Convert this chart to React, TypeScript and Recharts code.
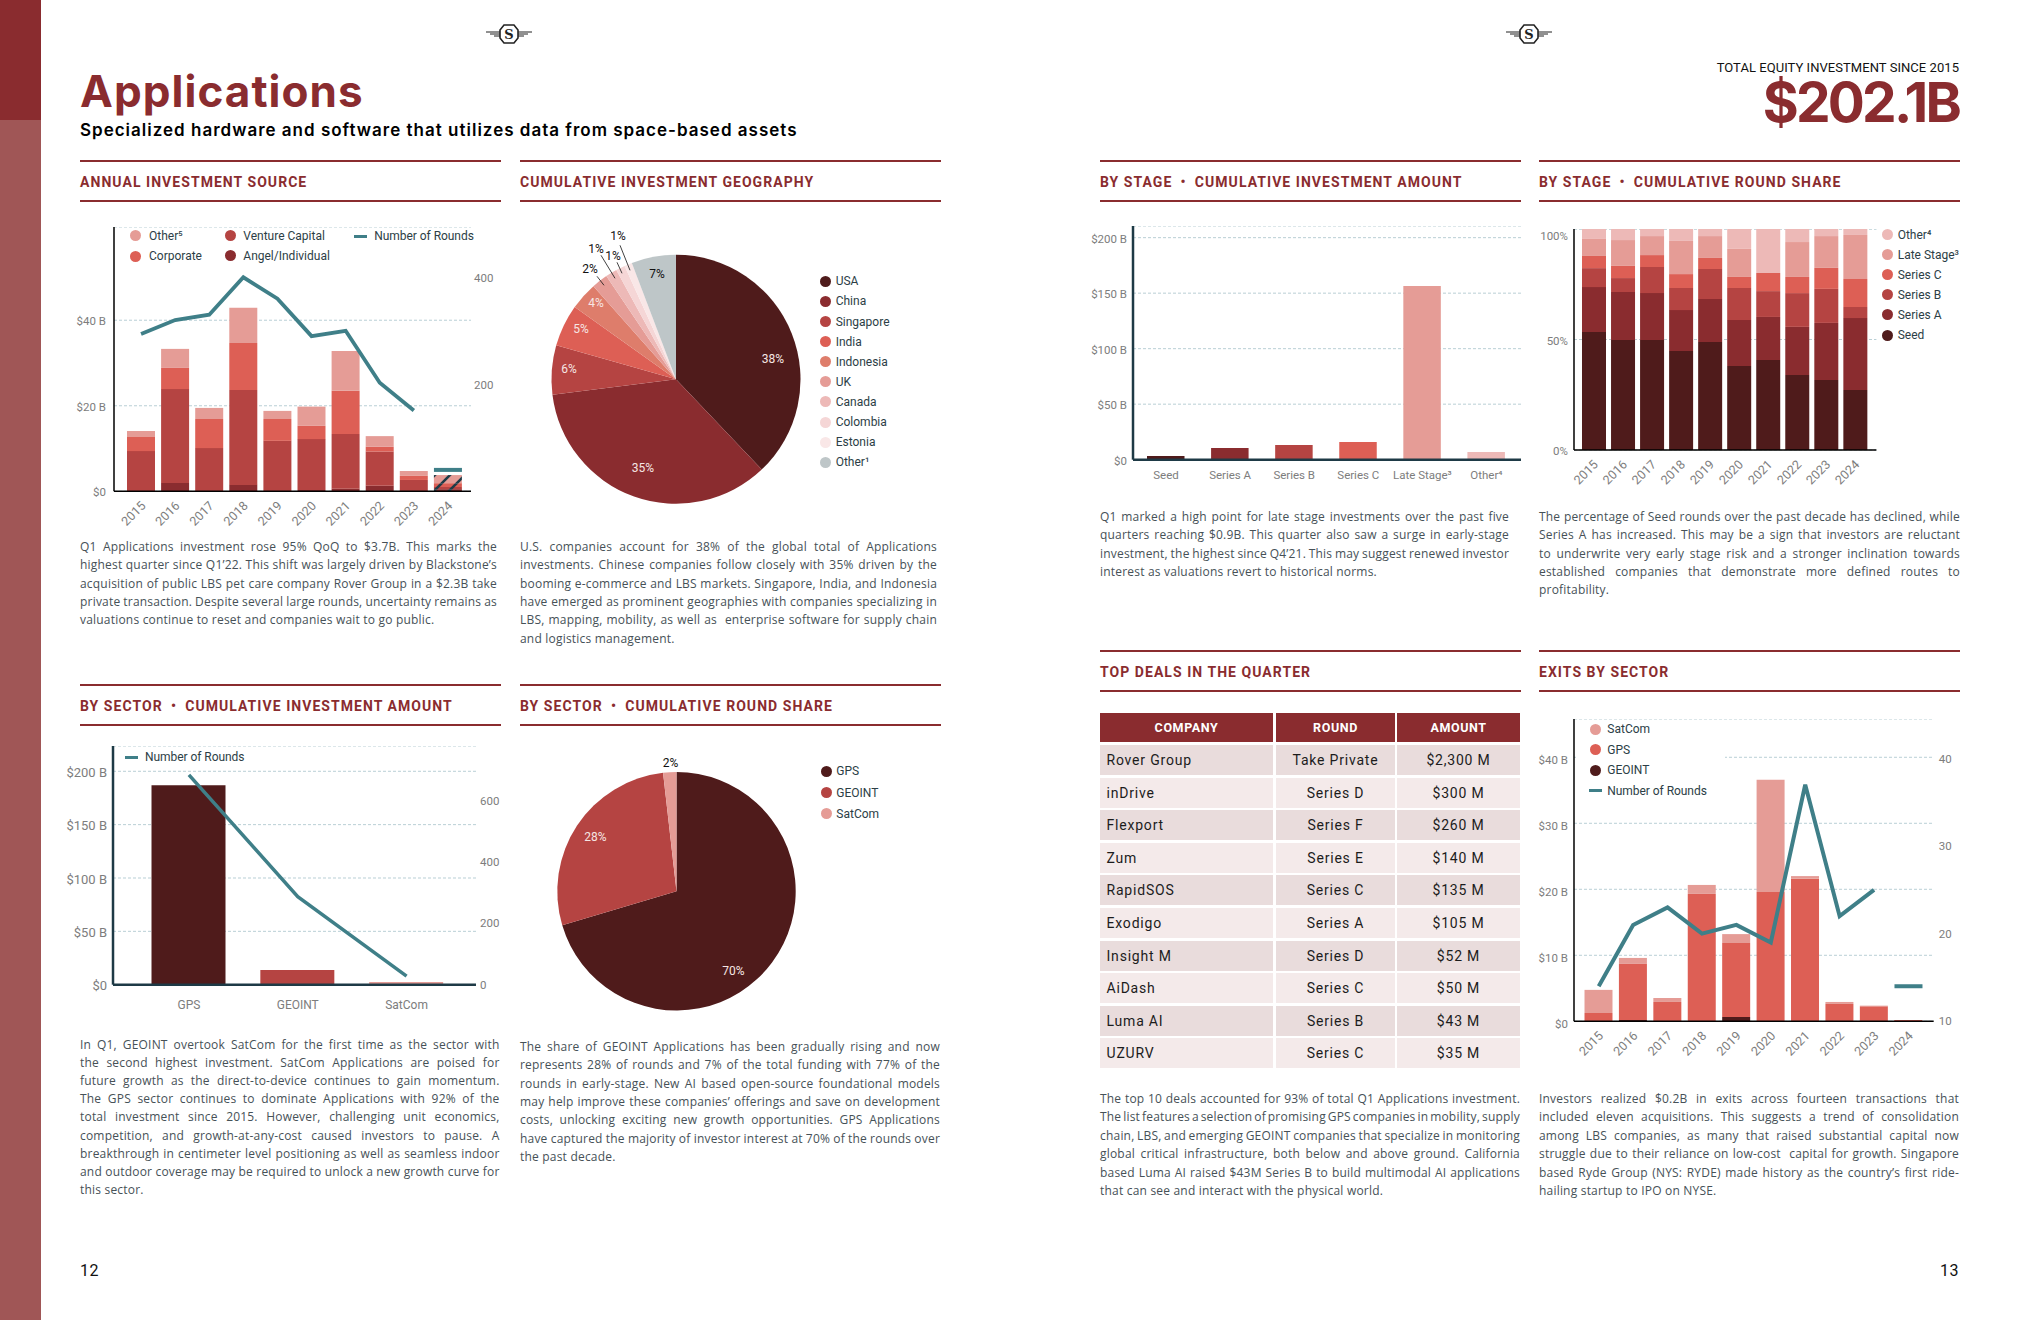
import React from 'react'
import { ComposedChart, Bar, Line, XAxis, YAxis, CartesianGrid, Cell, PieChart, Pie } from 'recharts'

const years = ['2015', '2016', '2017', '2018', '2019', '2020', '2021', '2022', '2023', '2024']

// annual investment source ($B)
const sourceAngel = [0, 1.95, 0, 1.5, 0, 0.3, 0.6, 1.3, 0, 0.5]
const sourceVC = [9.4, 21.95, 10.1, 22.2, 11.8, 11.9, 12.8, 8.0, 2.65, 0.5]
const sourceCorporate = [3.3, 4.95, 6.8, 11.0, 5.1, 3.1, 10.1, 1.1, 0.95, 0.9]
const sourceOther = [1.4, 4.45, 2.6, 8.2, 1.9, 4.5, 9.3, 2.5, 1.15, 1.9]
const sourceRounds = [294, 320, 330, 400, 360, 290, 300, 203, 151, null]
const sourceRoundsPartial = [null, null, null, null, null, null, null, null, null, 40]

const geoNames = ['USA', 'China', 'Singapore', 'India', 'Indonesia', 'UK', 'Canada', 'Colombia', 'Estonia', 'Other¹']
const geoValues = [38.1, 35.3, 6.4, 5.5, 3.6, 2.1, 1.5, 1.2, 1.0, 5.8]
const geoLabels = ['38%', '35%', '6%', '5%', '4%', '2%', '1%', '1%', '1%', '7%']

const sectorNames = ['GPS', 'GEOINT', 'SatCom']
const sectorAmount = [187, 13.7, 2.5]
const sectorRounds = [684, 287, 28]
const sectorShare = [70.4, 27.8, 1.8]
const sectorShareLabels = ['70%', '28%', '2%']

const stageNames = ['Seed', 'Series A', 'Series B', 'Series C', 'Late Stage³', 'Other⁴']
const stageAmount = [3.3, 10.5, 13.2, 15.9, 156.5, 6.9]

const shareSeed = [53.4, 49.8, 49.8, 44.8, 48.9, 38, 40.7, 33.9, 31.7, 27.1]
const shareA = [20.3, 21.7, 21.2, 18.5, 19.4, 20.8, 19.5, 21.8, 25.8, 32.6]
const shareB = [8.6, 6.3, 11.8, 10, 13.6, 14.5, 11.7, 15.3, 15.4, 5]
const shareC = [5.5, 5.5, 5.4, 6.3, 5, 5, 8.2, 7.3, 9.5, 12.7]
const shareLate = [7.7, 11.7, 8.6, 15, 9.9, 12.7, 0, 15.8, 14.4, 19.9]
const shareOther = [4.5, 5, 3.2, 5.4, 3.2, 9, 19.9, 5.9, 3.2, 2.7]

const exitGeoint = [0, 0.2, 0, 0, 0.66, 0, 0, 0, 0, 0]
const exitGps = [1.26, 8.5, 2.93, 19.3, 11.2, 19.6, 21.6, 2.63, 2.27, 0.2]
const exitSatcom = [3.5, 0.9, 0.6, 1.36, 1.35, 17, 0.4, 0.3, 0.1, 0]
const exitRounds = [14, 21, 23, 20, 21, 19, 37, 22, 25, null]
const exitRoundsPartial = [null, null, null, null, null, null, null, null, null, 14]

const dealCompany = ['Rover Group', 'inDrive', 'Flexport', 'Zum', 'RapidSOS', 'Exodigo', 'Insight M', 'AiDash', 'Luma AI', 'UZURV']
const dealRound = ['Take Private', 'Series D', 'Series F', 'Series E', 'Series C', 'Series A', 'Series D', 'Series C', 'Series B', 'Series C']
const dealAmount = ['$2,300 M', '$300 M', '$260 M', '$140 M', '$135 M', '$105 M', '$52 M', '$50 M', '$43 M', '$35 M']

const p1 = [
  'Q1 Applications investment rose 95% QoQ to $3.7B. This marks the',
  'highest quarter since Q1’22. This shift was largely driven by Blackstone’s',
  'acquisition of public LBS pet care company Rover Group in a $2.3B take',
  'private transaction. Despite several large rounds, uncertainty remains as',
  'valuations continue to reset and companies wait to go public.',
]
const p2 = [
  'U.S. companies account for 38% of the global total of Applications',
  'investments. Chinese companies follow closely with 35% driven by the',
  'booming e-commerce and LBS markets. Singapore, India, and Indonesia',
  'have emerged as prominent geographies with companies specializing in',
  'LBS, mapping, mobility, as well as  enterprise software for supply chain',
  'and logistics management.',
]
const p3 = [
  'In Q1, GEOINT overtook SatCom for the first time as the sector with',
  'the second highest investment. SatCom Applications are poised for',
  'future growth as the direct-to-device continues to gain momentum.',
  'The GPS sector continues to dominate Applications with 92% of the',
  'total investment since 2015. However, challenging unit economics,',
  'competition, and growth-at-any-cost caused investors to pause. A',
  'breakthrough in centimeter level positioning as well as seamless indoor',
  'and outdoor coverage may be required to unlock a new growth curve for',
  'this sector.',
]
const p4 = [
  'The share of GEOINT Applications has been gradually rising and now',
  'represents 28% of rounds and 7% of the total funding with 77% of the',
  'rounds in early-stage. New AI based open-source foundational models',
  'may help improve these companies’ offerings and save on development',
  'costs, unlocking exciting new growth opportunities. GPS Applications',
  'have captured the majority of investor interest at 70% of the rounds over',
  'the past decade.',
]
const p5 = [
  'Q1 marked a high point for late stage investments over the past five',
  'quarters reaching $0.9B. This quarter also saw a surge in early-stage',
  'investment, the highest since Q4’21. This may suggest renewed investor',
  'interest as valuations revert to historical norms.',
]
const p6 = [
  'The percentage of Seed rounds over the past decade has declined, while',
  'Series A has increased. This may be a sign that investors are reluctant',
  'to underwrite very early stage risk and a stronger inclination towards',
  'established companies that demonstrate more defined routes to',
  'profitability.',
]
const p7 = [
  'The top 10 deals accounted for 93% of total Q1 Applications investment.',
  'The list features a selection of promising GPS companies in mobility, supply',
  'chain, LBS, and emerging GEOINT companies that specialize in monitoring',
  'global critical infrastructure, both below and above ground. California',
  'based Luma AI raised $43M Series B to build multimodal AI applications',
  'that can see and interact with the physical world.',
]
const p8 = [
  'Investors realized $0.2B in exits across fourteen transactions that',
  'included eleven acquisitions. This suggests a trend of consolidation',
  'among LBS companies, as many that raised substantial capital now',
  'struggle due to their reliance on low-cost  capital for growth. Singapore',
  'based Ryde Group (NYS: RYDE) made history as the country’s first ride-',
  'hailing startup to IPO on NYSE.',
]

const sourceData = years.map((year, i) => ({ year, angel: sourceAngel[i], vc: sourceVC[i], corporate: sourceCorporate[i], other: sourceOther[i], rounds: sourceRounds[i], partial: sourceRoundsPartial[i] }))
const sectorData = sectorNames.map((name, i) => ({ name, amount: sectorAmount[i], rounds: sectorRounds[i] }))
const stageData = stageNames.map((name, i) => ({ name, amount: stageAmount[i] }))
const shareData = years.map((year, i) => ({ year, seed: shareSeed[i], a: shareA[i], b: shareB[i], c: shareC[i], late: shareLate[i], other: shareOther[i] }))
const exitData = years.map((year, i) => ({ year, geoint: exitGeoint[i], gps: exitGps[i], satcom: exitSatcom[i], rounds: exitRounds[i], partial: exitRoundsPartial[i] }))
const geoData = geoNames.map((name, i) => ({ name, value: geoValues[i] }))
const sectorShareData = sectorNames.map((name, i) => ({ name, value: sectorShare[i] }))

const DARK = '#4f1b1b'
const MAROON = '#8a2c2f'
const BRICK = '#b54442'
const CORAL = '#dd5f55'
const SALMON = '#de7d6b'
const ROSE = '#e59c96'
const BLUSH = '#edb9b7'
const PALE = '#f5d6d6'
const MIST = '#f9e7e7'
const SLATE = '#bec6c8'
const TEAL = '#3f7f88'
const NAVY = '#1e3a46'
const GRID = '#b9cfd5'
const TICK = '#7d7d7d'
const BODY = '#465157'
const LEGEND = '#2c3e46'

const geoColors = [DARK, MAROON, BRICK, CORAL, SALMON, ROSE, BLUSH, PALE, MIST, SLATE]
const sectorColors = [DARK, BRICK, ROSE]
const stageColors = [DARK, MAROON, BRICK, CORAL, ROSE, BLUSH]

// label offsets from the pie centre, hand placed like in the report
const geoLabelPos = [[97, -19], [-33, 90], [-107, -9], [-95, -49], [-80, -75], [-86, -109], [-80, -129], [-63, -122], [-58, -142], [-19, -104]]
const geoLeaders = { 5: [-79, -103, -72, -94], 6: [-75, -124, -61, -101], 7: [-59, -117, -54, -106], 8: [-56, -134, -46, -109] }
const shareLabelPos = [[57, 80.5], [-81, -53], [-6, -127.5]]

function Txt({ x, y, size, color = '#000', weight = 400, font = 'Roboto', spacing = 0, right = false, children }: any) {
  const pos = right ? { right: 2040 - x } : { left: x }
  return <div style={{ position: 'absolute', ...pos, top: y, transform: 'translateY(-50%)', fontFamily: font, fontSize: size, color, fontWeight: weight, letterSpacing: spacing, lineHeight: 1, whiteSpace: 'pre' }}>{children}</div>
}

function Rule({ x, w, y }: any) {
  return <div style={{ position: 'absolute', left: x, top: y - 1, width: w, height: 2, background: MAROON }} />
}

function Section({ x, y, title, w = 421 }: any) {
  return <>
    <Rule x={x} w={w} y={y} />
    <Txt x={x} y={y + 20.5} size={14} weight={700} color={MAROON} spacing={1.05}>{title}</Txt>
    <Rule x={x} w={w} y={y + 40} />
  </>
}

function Para({ x, y, w, lines, step = 18.3 }: any) {
  return <>
    {lines.map((line: string, i: number) => {
      const last = i === lines.length - 1
      return <div key={i} style={{ position: 'absolute', left: x, top: y + i * step, width: w, transform: 'translateY(-50%)', fontFamily: '"Open Sans"', fontSize: 12, lineHeight: 1, color: BODY, letterSpacing: 0.2, wordSpacing: last ? 0 : -1.5, whiteSpace: 'pre', textAlign: 'justify', textAlignLast: last ? 'left' : 'justify' }}>{line}</div>
    })}
  </>
}

function Dot({ x, y, color, text, tx, size = 12, spacing = 0 }: any) {
  return <>
    <div style={{ position: 'absolute', left: x - 5.5, top: y - 5.5, width: 11, height: 11, borderRadius: 6, background: color }} />
    <Txt x={tx} y={y} size={size} color={LEGEND} spacing={spacing}>{text}</Txt>
  </>
}

function Dash({ x, y, text, tx, spacing = -0.05 }: any) {
  return <>
    <div style={{ position: 'absolute', left: x, top: y - 1.5, width: 13, height: 3, background: TEAL }} />
    <Txt x={tx} y={y} size={12} color={LEGEND} spacing={spacing}>{text}</Txt>
  </>
}

function Logo({ cx, cy }: any) {
  return <svg style={{ position: 'absolute', left: cx - 23, top: cy - 12 }} width={46} height={24} viewBox="0 0 46 24">
    <g stroke="#222" strokeWidth={1} fill="none">
      <path d="M0 10H15M4 12H15M8 14H15M31 10H46M31 12H42M31 14H38" />
      <polygon points="18,3 28,3 32,8 32,16 28,21 18,21 14,16 14,8" strokeWidth={1.6} fill="#fff" />
    </g>
    <text x={23} y={17} textAnchor="middle" fontFamily="DejaVu Serif" fontWeight={700} fontSize={13} fill="#222">S</text>
  </svg>
}

function Plot({ left, top, right, bottom, yW, rW = 0, xH, children }: any) {
  return <div style={{ position: 'absolute', left: left - yW, top }}>{children(right - left + yW + rW, bottom - top + xH)}</div>
}

const YearTick = ({ x, y, payload }: any) => {
  const ax = x + 3
  const ay = y + 11
  return <text x={ax} y={ay} textAnchor="end" dominantBaseline="middle" fontFamily="Roboto" fontSize={12.5} fill={TICK} transform={`rotate(-45 ${ax} ${ay})`}>{payload.value}</text>
}

const money = (v: number) => (v === 0 ? '$0' : `$${v} B`)
const noMargin = { top: 0, right: 0, bottom: 0, left: 0 }
const tickStyle = (size: number, dy = 1) => ({ fontFamily: 'Roboto', fontSize: size, fill: TICK, dy })

const DashDot = (width: number) => (props: any) => {
  const { cx, cy, index } = props
  if (cy == null || Number.isNaN(cy)) return <g key={index} />
  return <rect key={index} x={cx - width / 2} y={cy - 2} width={width} height={4} fill={TEAL} />
}

const geoLabel = (props: any) => {
  const { cx, cy, index } = props
  const [dx, dy] = geoLabelPos[index]
  const outside = index >= 5
  const leader = (geoLeaders as any)[index]
  return <g key={index}>
    {leader && <line x1={cx + leader[0]} y1={cy + leader[1]} x2={cx + leader[2]} y2={cy + leader[3]} stroke="#111" strokeWidth={0.8} />}
    <text x={cx + dx} y={cy + dy} textAnchor="middle" dominantBaseline="middle" fontFamily="Roboto" fontSize={12} fill={outside ? '#111' : '#f6e6e4'}>{geoLabels[index]}</text>
  </g>
}

const shareLabel = (props: any) => {
  const { cx, cy, index } = props
  const [dx, dy] = shareLabelPos[index]
  return <text key={index} x={cx + dx} y={cy + dy} textAnchor="middle" dominantBaseline="middle" fontFamily="Roboto" fontSize={12} fill={index === 2 ? '#111' : '#f6e6e4'}>{sectorShareLabels[index]}</text>
}

function hatch(id: string, base: string) {
  return <pattern id={id} width={15} height={15} patternUnits="userSpaceOnUse" patternTransform="translate(1 3)">
    <rect width={15} height={15} fill={base} />
    <path d="M-3 18L18 -3M-3 3L3 -3M12 18L18 12" stroke={NAVY} strokeWidth={2.6} />
  </pattern>
}

function SourceChart() {
  return <Plot left={114} top={227} right={471} bottom={491.3} yW={50} rW={30} xH={40}>
    {(w: number, h: number) => (
      <ComposedChart width={w} height={h} data={sourceData} margin={noMargin}>
        <defs>
          {hatch('h-other', ROSE)}
          {hatch('h-corp', CORAL)}
          {hatch('h-vc', BRICK)}
          {hatch('h-angel', MAROON)}
        </defs>
        <CartesianGrid yAxisId="l" vertical={false} stroke={GRID} strokeDasharray="3 2" />
        <XAxis dataKey="year" height={40} interval={0} padding={{ left: 10, right: 6 }} tickLine={false} tickSize={0} tick={YearTick} axisLine={{ stroke: '#000', strokeWidth: 1.5 }} />
        <YAxis yAxisId="l" width={50} domain={[0, 61.8]} ticks={[0, 20, 40]} tickFormatter={money} tickLine={false} tickSize={0} tickMargin={8} tick={tickStyle(11.5)} axisLine={{ stroke: '#000', strokeWidth: 1.5 }} />
        <YAxis yAxisId="r" orientation="right" width={30} domain={[0, 494]} ticks={[0, 200, 400]} tickFormatter={(v: number) => (v === 0 ? '' : String(v))} tickLine={false} tickSize={0} tickMargin={3} tick={tickStyle(11.5)} axisLine={false} />
        <Bar yAxisId="l" dataKey="angel" stackId="s" fill={MAROON} barSize={28} isAnimationActive={false}>
          {years.map((y) => <Cell key={y} fill={y === '2024' ? 'url(#h-angel)' : MAROON} />)}
        </Bar>
        <Bar yAxisId="l" dataKey="vc" stackId="s" fill={BRICK} barSize={28} isAnimationActive={false}>
          {years.map((y) => <Cell key={y} fill={y === '2024' ? 'url(#h-vc)' : BRICK} />)}
        </Bar>
        <Bar yAxisId="l" dataKey="corporate" stackId="s" fill={CORAL} barSize={28} isAnimationActive={false}>
          {years.map((y) => <Cell key={y} fill={y === '2024' ? 'url(#h-corp)' : CORAL} />)}
        </Bar>
        <Bar yAxisId="l" dataKey="other" stackId="s" fill={ROSE} barSize={28} isAnimationActive={false}>
          {years.map((y) => <Cell key={y} fill={y === '2024' ? 'url(#h-other)' : ROSE} />)}
        </Bar>
        <Line yAxisId="r" dataKey="rounds" stroke={TEAL} strokeWidth={3.8} dot={false} strokeLinejoin="miter" isAnimationActive={false} />
        <Line yAxisId="r" dataKey="partial" stroke={TEAL} strokeWidth={3.8} dot={DashDot(28)} isAnimationActive={false} />
      </ComposedChart>
    )}
  </Plot>
}

function GeoPie() {
  return <div style={{ position: 'absolute', left: 520, top: 215 }}>
    <PieChart width={300} height={300} margin={noMargin}>
      <Pie data={geoData} dataKey="value" cx={156} cy={164.3} outerRadius={124.5} startAngle={90} endAngle={-270} stroke="none" label={geoLabel} labelLine={false} isAnimationActive={false}>
        {geoColors.map((c) => <Cell key={c} fill={c} />)}
      </Pie>
    </PieChart>
  </div>
}

function SectorChart() {
  return <Plot left={113} top={746} right={476} bottom={984.7} yW={60} rW={30} xH={30}>
    {(w: number, h: number) => (
      <ComposedChart width={w} height={h} data={sectorData} margin={noMargin}>
        <CartesianGrid yAxisId="l" vertical={false} stroke={GRID} strokeDasharray="3 2" />
        <XAxis dataKey="name" height={30} interval={0} padding={{ left: 21.5, right: 15 }} tickLine={false} tickSize={0} tickMargin={16} tick={tickStyle(12, 0)} axisLine={{ stroke: NAVY, strokeWidth: 2.5 }} />
        <YAxis yAxisId="l" width={60} domain={[0, 223.7]} ticks={[0, 50, 100, 150, 200]} tickFormatter={money} tickLine={false} tickSize={0} tickMargin={6} tick={tickStyle(13)} axisLine={{ stroke: NAVY, strokeWidth: 2.5 }} />
        <YAxis yAxisId="r" orientation="right" width={30} domain={[0, 778]} ticks={[0, 200, 400, 600]} tickLine={false} tickSize={0} tickMargin={4} tick={tickStyle(11.5, 0)} axisLine={false} />
        <Bar yAxisId="l" dataKey="amount" barSize={74} isAnimationActive={false}>
          {sectorColors.map((c) => <Cell key={c} fill={c} />)}
        </Bar>
        <Line yAxisId="r" dataKey="rounds" stroke={TEAL} strokeWidth={3.5} dot={false} isAnimationActive={false} />
      </ComposedChart>
    )}
  </Plot>
}

function SectorPie() {
  return <div style={{ position: 'absolute', left: 520, top: 730 }}>
    <PieChart width={300} height={300} margin={noMargin}>
      <Pie data={sectorShareData} dataKey="value" cx={156.5} cy={161.3} outerRadius={119.2} startAngle={90} endAngle={-270} stroke="none" label={shareLabel} labelLine={false} isAnimationActive={false}>
        {sectorColors.map((c) => <Cell key={c} fill={c} />)}
      </Pie>
    </PieChart>
  </div>
}

function StageChart() {
  return <Plot left={1133} top={226} right={1521} bottom={459.7} yW={50} xH={30}>
    {(w: number, h: number) => (
      <ComposedChart width={w} height={h} data={stageData} margin={noMargin}>
        <CartesianGrid vertical={false} stroke={GRID} strokeDasharray="3 2" />
        <XAxis dataKey="name" height={30} interval={0} padding={{ left: 1, right: 2.5 }} tickLine={false} tickSize={0} tickMargin={11} tick={tickStyle(11.5, 0)} axisLine={{ stroke: NAVY, strokeWidth: 2.5 }} />
        <YAxis width={50} domain={[0, 210.5]} ticks={[0, 50, 100, 150, 200]} tickFormatter={money} tickLine={false} tickSize={0} tickMargin={6} tick={tickStyle(11.5)} axisLine={{ stroke: NAVY, strokeWidth: 2.5 }} />
        <Bar dataKey="amount" barSize={37.5} isAnimationActive={false}>
          {stageColors.map((c) => <Cell key={c} fill={c} />)}
        </Bar>
      </ComposedChart>
    )}
  </Plot>
}

function ShareChart() {
  return <Plot left={1574.3} top={229} right={1876.7} bottom={450} yW={40} xH={40}>
    {(w: number, h: number) => (
      <ComposedChart width={w} height={h} data={shareData} margin={noMargin}>
        <CartesianGrid vertical={false} stroke={GRID} strokeDasharray="3 2" />
        <XAxis dataKey="year" height={40} interval={0} padding={{ left: 5, right: 7 }} tickLine={false} tickSize={0} tick={YearTick} axisLine={{ stroke: '#000', strokeWidth: 1.5 }} />
        <YAxis width={40} domain={[0, 100]} ticks={[0, 50, 100]} tickFormatter={(v: number) => `${v}%`} tickLine={false} tickSize={0} tickMargin={6} tick={tickStyle(11.5)} axisLine={{ stroke: '#000', strokeWidth: 1.5 }} />
        <Bar dataKey="seed" stackId="s" fill={DARK} barSize={24} isAnimationActive={false} />
        <Bar dataKey="a" stackId="s" fill={MAROON} barSize={24} isAnimationActive={false} />
        <Bar dataKey="b" stackId="s" fill={BRICK} barSize={24} isAnimationActive={false} />
        <Bar dataKey="c" stackId="s" fill={CORAL} barSize={24} isAnimationActive={false} />
        <Bar dataKey="late" stackId="s" fill={ROSE} barSize={24} isAnimationActive={false} />
        <Bar dataKey="other" stackId="s" fill={BLUSH} barSize={24} isAnimationActive={false} />
      </ComposedChart>
    )}
  </Plot>
}

function ExitChart() {
  return <Plot left={1574.3} top={719} right={1934} bottom={1021.3} yW={40} rW={30} xH={40}>
    {(w: number, h: number) => (
      <ComposedChart width={w} height={h} data={exitData} margin={noMargin}>
        <CartesianGrid yAxisId="l" vertical={false} stroke={GRID} strokeDasharray="3 2" />
        <XAxis dataKey="year" height={40} interval={0} padding={{ left: 7.5, right: 8 }} tickLine={false} tickSize={0} tick={YearTick} axisLine={{ stroke: '#000', strokeWidth: 1.5 }} />
        <YAxis yAxisId="l" width={40} domain={[0, 45.8]} ticks={[0, 10, 20, 30, 40]} tickFormatter={money} tickLine={false} tickSize={0} tickMargin={6} tick={tickStyle(11.5, 2.5)} axisLine={{ stroke: '#000', strokeWidth: 1.5 }} />
        <YAxis yAxisId="r" orientation="right" width={30} domain={[10, 44.5]} ticks={[10, 20, 30, 40]} tickLine={false} tickSize={0} tickMargin={5} tick={tickStyle(11.5, 0)} axisLine={false} />
        <Bar yAxisId="l" dataKey="geoint" stackId="s" fill={DARK} barSize={28} isAnimationActive={false} />
        <Bar yAxisId="l" dataKey="gps" stackId="s" fill={CORAL} barSize={28} isAnimationActive={false} />
        <Bar yAxisId="l" dataKey="satcom" stackId="s" fill={ROSE} barSize={28} isAnimationActive={false} />
        <Line yAxisId="r" dataKey="rounds" stroke={TEAL} strokeWidth={4} dot={false} strokeLinejoin="miter" isAnimationActive={false} />
        <Line yAxisId="r" dataKey="partial" stroke={TEAL} strokeWidth={4} dot={DashDot(28)} isAnimationActive={false} />
      </ComposedChart>
    )}
  </Plot>
}

function DealsTable() {
  const cols = [[1100, 173], [1276, 119], [1397, 123]]
  const cell = (col: number, y: number, h: number, bg: string, color: string, text: string, opts: any) => (
    <div style={{ position: 'absolute', left: cols[col][0], top: y, width: cols[col][1], height: h, background: bg, color, display: 'flex', alignItems: 'center', justifyContent: opts.left ? 'flex-start' : 'center', paddingLeft: opts.left ? 6.5 : 0, boxSizing: 'border-box', fontFamily: 'Roboto', fontSize: opts.size, fontWeight: opts.weight, letterSpacing: opts.spacing, whiteSpace: 'nowrap' }}>{text}</div>
  )
  return <>
    {['COMPANY', 'ROUND', 'AMOUNT'].map((h, c) => <React.Fragment key={h}>{cell(c, 713, 29, MAROON, '#fff', h, { size: 12.5, weight: 700, spacing: 0.6 })}</React.Fragment>)}
    {dealCompany.map((name, i) => {
      const y = 745 + i * 32.6
      const bg = i % 2 === 0 ? '#e9dcdc' : '#f4eaea'
      const opts = { size: 14, weight: 400, spacing: 0.8 }
      return <React.Fragment key={name}>
        {cell(0, y, 30, bg, '#1c1c1c', name, { ...opts, left: true })}
        {cell(1, y, 30, bg, '#1c1c1c', dealRound[i], opts)}
        {cell(2, y, 30, bg, '#1c1c1c', dealAmount[i], opts)}
      </React.Fragment>
    })}
  </>
}

export default function App() {
  return <div style={{ position: 'absolute', left: 0, top: 0, width: 2040, height: 1320, background: '#fff', overflow: 'hidden', fontFamily: 'Roboto' }}>
    <div style={{ position: 'absolute', left: 0, top: 0, width: 41, height: 1320, background: '#a05656' }} />
    <div style={{ position: 'absolute', left: 0, top: 0, width: 41, height: 120, background: MAROON }} />
    <Logo cx={509} cy={34} />
    <Logo cx={1529} cy={34} />

    <Txt x={80} y={91} size={44} weight={700} font="Inter" color={MAROON} spacing={1.05}>Applications</Txt>
    <Txt x={80} y={130} size={17} weight={600} font="Inter" color="#000" spacing={1}>Specialized hardware and software that utilizes data from space-based assets</Txt>
    <Txt x={1959} y={67} size={13} right color="#111" spacing={0.05}>TOTAL EQUITY INVESTMENT SINCE 2015</Txt>
    <Txt x={1959} y={102} size={55} right weight={700} font="Inter" color={MAROON} spacing={-2.8}>$202.1B</Txt>

    <Section x={80} y={161} title="ANNUAL INVESTMENT SOURCE" />
    <Section x={520} y={161} title="CUMULATIVE INVESTMENT GEOGRAPHY" />
    <Section x={1100} y={161} title={'BY STAGE\u2002•\u2002CUMULATIVE INVESTMENT AMOUNT'} />
    <Section x={1539} y={161} title={'BY STAGE\u2002•\u2002CUMULATIVE ROUND SHARE'} />
    <Section x={80} y={685} title={'BY SECTOR\u2002•\u2002CUMULATIVE INVESTMENT AMOUNT'} />
    <Section x={520} y={685} title={'BY SECTOR\u2002•\u2002CUMULATIVE ROUND SHARE'} />
    <Section x={1100} y={651} title="TOP DEALS IN THE QUARTER" />
    <Section x={1539} y={651} title="EXITS BY SECTOR" />

    <SourceChart />
    <Dot x={135.7} y={235.7} color={ROSE} text="Other⁵" tx={149} />
    <Dot x={135.7} y={256} color={CORAL} text="Corporate" tx={149} />
    <Dot x={230} y={235.5} color={BRICK} text="Venture Capital" tx={243.3} />
    <Dot x={230} y={255.5} color={MAROON} text="Angel/Individual" tx={243.3} />
    <Dash x={354} y={236} text="Number of Rounds" tx={374.3} />
    <Para x={80} y={547} w={417} lines={p1} />

    <GeoPie />
    {geoNames.map((n, i) => <Dot key={n} x={825.7} y={281.3 + i * 20.1} color={geoColors[i]} text={n} tx={835.7} />)}
    <Para x={520} y={547} w={417} lines={p2} />

    <SectorChart />
    <Dash x={125} y={757} text="Number of Rounds" tx={145} />
    <Para x={80} y={1044.5} w={419.5} lines={p3} step={18.2} />

    <SectorPie />
    {sectorNames.map((n, i) => <Dot key={n} x={826.3} y={771.3 + i * 21.3} color={sectorColors[i]} text={n} tx={836.3} />)}
    <Para x={520} y={1047} w={420} lines={p4} />

    <StageChart />
    <Para x={1100} y={517} w={409} lines={p5} />

    <ShareChart />
    {['Other⁴', 'Late Stage³', 'Series C', 'Series B', 'Series A', 'Seed'].map((n, i) => <Dot key={n} x={1887.7} y={234.5 + i * 20.1} color={[BLUSH, ROSE, CORAL, BRICK, MAROON, DARK][i]} text={n} tx={1897.7} />)}
    <Para x={1539} y={517} w={421} lines={p6} />

    <DealsTable />
    <Para x={1100} y={1099} w={420} lines={p7} step={18.4} />

    <ExitChart />
    <div style={{ position: 'absolute', left: 1576, top: 720, width: 149, height: 80, background: '#fff' }} />
    <Dot x={1595.7} y={729} color={ROSE} text="SatCom" tx={1607.3} />
    <Dot x={1595.7} y={749.5} color={CORAL} text="GPS" tx={1607.3} />
    <Dot x={1595.7} y={770} color={DARK} text="GEOINT" tx={1607.3} />
    <Dash x={1589} y={790.5} text="Number of Rounds" tx={1607.3} />
    <Para x={1539} y={1099} w={420} lines={p8} step={18.4} />

    <Txt x={80} y={1270.5} size={16} color="#111" spacing={0.5}>12</Txt>
    <Txt x={1959} y={1270.5} size={16} right color="#111" spacing={0.5}>13</Txt>
  </div>
}
